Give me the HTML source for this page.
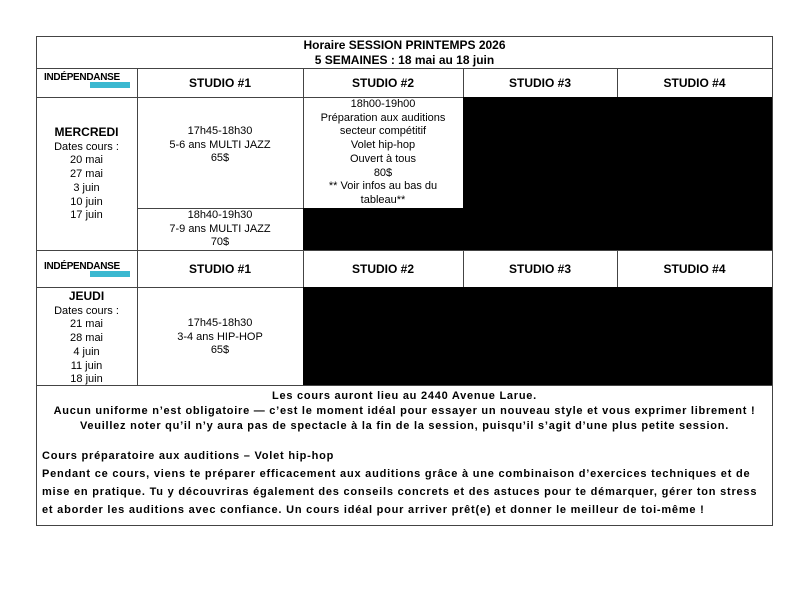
<!DOCTYPE html>
<html><head><meta charset="utf-8"><style>
body{margin:0;width:792px;height:612px;background:#fff;position:relative;font-family:"Liberation Sans",sans-serif;color:#000;overflow:hidden}
.a{position:absolute;box-sizing:border-box}
.h{position:absolute;background:#444;height:1px}
.v{position:absolute;background:#444;width:1px}
.blk{position:absolute;background:#000}
.c{position:absolute;text-align:center;font-size:11px;line-height:13.7px}
.st{position:absolute;text-align:center;font-weight:bold;font-size:12px}
.logo{position:absolute;left:44px;width:88px;height:16px}
.logo b{position:absolute;left:0;top:0;font-size:10px;letter-spacing:-0.3px;font-weight:900}
.logo i{position:absolute;left:46px;top:10px;width:40px;height:6px;background:#3bb8d0}
</style></head><body>
<div class="a" style="left:36px;top:36px;width:737px;height:490px;border:1px solid #444"></div>
<div class="h" style="left:36px;top:68px;width:737px"></div>
<div class="h" style="left:36px;top:97px;width:737px"></div>
<div class="h" style="left:137px;top:208px;width:636px"></div>
<div class="h" style="left:36px;top:250px;width:737px"></div>
<div class="h" style="left:36px;top:287px;width:737px"></div>
<div class="h" style="left:36px;top:385px;width:737px"></div>
<div class="v" style="left:137px;top:68px;height:317px"></div>
<div class="v" style="left:303px;top:68px;height:317px"></div>
<div class="v" style="left:463px;top:68px;height:317px"></div>
<div class="v" style="left:617px;top:68px;height:317px"></div>
<div class="blk" style="left:463px;top:97px;width:309px;height:111px"></div>
<div class="blk" style="left:303px;top:208px;width:469px;height:42px"></div>
<div class="blk" style="left:303px;top:287px;width:469px;height:98px"></div>
<div class="st" style="left:36px;top:38px;width:737px;line-height:15px">Horaire SESSION PRINTEMPS 2026<br>5 SEMAINES : 18 mai au 18 juin</div>
<div class="logo" style="top:72px"><b>INDÉPENDANSE</b><i></i></div>
<div class="logo" style="top:261px"><b>INDÉPENDANSE</b><i></i></div>
<div class="st" style="left:137px;top:76px;width:166px">STUDIO #1</div>
<div class="st" style="left:303px;top:76px;width:160px">STUDIO #2</div>
<div class="st" style="left:463px;top:76px;width:154px">STUDIO #3</div>
<div class="st" style="left:617px;top:76px;width:155px">STUDIO #4</div>
<div class="st" style="left:137px;top:262px;width:166px">STUDIO #1</div>
<div class="st" style="left:303px;top:262px;width:160px">STUDIO #2</div>
<div class="st" style="left:463px;top:262px;width:154px">STUDIO #3</div>
<div class="st" style="left:617px;top:262px;width:155px">STUDIO #4</div>
<div class="c" style="left:36px;top:126px;width:101px"><b style="font-size:12px">MERCREDI</b><br>Dates cours :<br>20 mai<br>27 mai<br>3 juin<br>10 juin<br>17 juin</div>
<div class="c" style="left:137px;top:125px;width:166px">17h45-18h30<br>5-6 ans MULTI JAZZ<br>65$</div>
<div class="c" style="left:303px;top:98px;width:160px">18h00-19h00<br>Préparation aux auditions<br>secteur compétitif<br>Volet hip-hop<br>Ouvert à tous<br>80$<br>** Voir infos au bas du<br>tableau**</div>
<div class="c" style="left:137px;top:209px;width:166px">18h40-19h30<br>7-9 ans MULTI JAZZ<br>70$</div>
<div class="c" style="left:36px;top:290px;width:101px"><b style="font-size:12px">JEUDI</b><br>Dates cours :<br>21 mai<br>28 mai<br>4 juin<br>11 juin<br>18 juin</div>
<div class="c" style="left:137px;top:317px;width:166px">17h45-18h30<br>3-4 ans HIP-HOP<br>65$</div>
<div class="c" style="left:36px;top:389px;width:737px;font-weight:bold;font-size:11px;line-height:14.8px;letter-spacing:0.75px;white-space:nowrap">Les cours auront lieu au 2440 Avenue Larue.<br>Aucun uniforme n’est obligatoire — c’est le moment idéal pour essayer un nouveau style et vous exprimer librement !<br>Veuillez noter qu’il n’y aura pas de spectacle à la fin de la session, puisqu’il s’agit d’une plus petite session.</div>
<div class="a" style="left:42px;top:447px;width:728px;white-space:nowrap;font-weight:bold;font-size:11px;line-height:18px;letter-spacing:0.78px">Cours préparatoire aux auditions – Volet hip-hop<br>Pendant ce cours, viens te préparer efficacement aux auditions grâce à une combinaison d’exercices techniques et de<br>mise en pratique. Tu y découvriras également des conseils concrets et des astuces pour te démarquer, gérer ton stress<br>et aborder les auditions avec confiance. Un cours idéal pour arriver prêt(e) et donner le meilleur de toi-même !</div>
</body></html>
